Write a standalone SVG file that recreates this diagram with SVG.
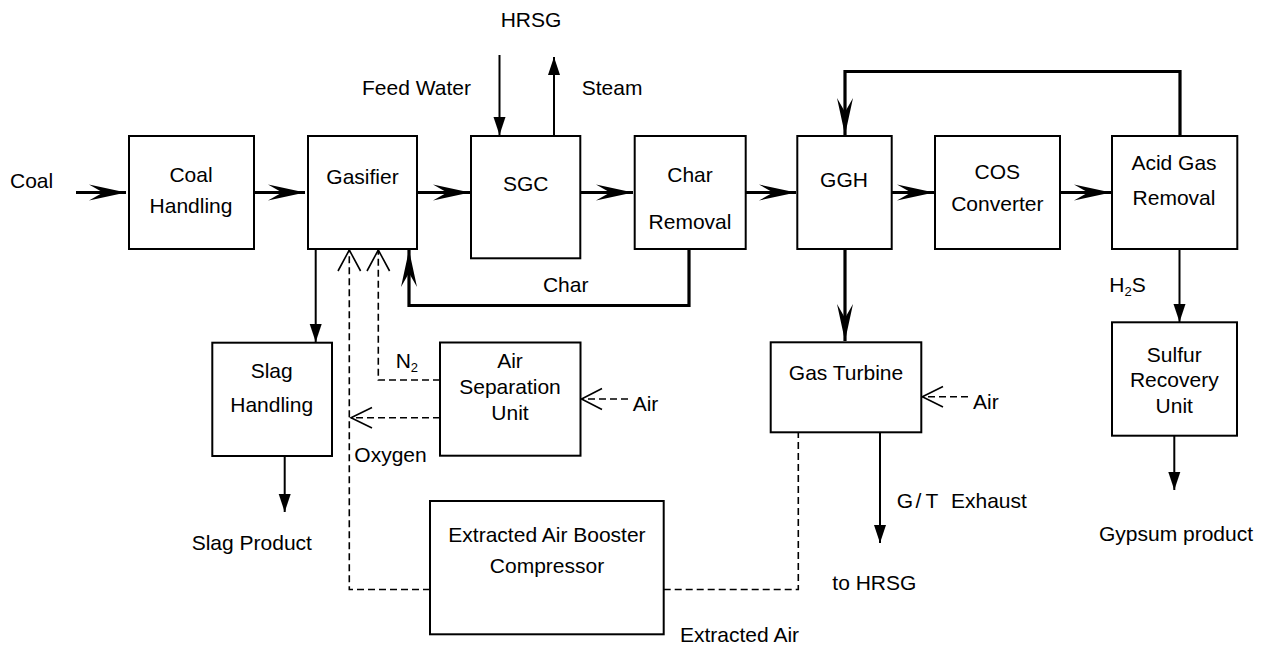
<svg xmlns="http://www.w3.org/2000/svg" width="1274" height="648" viewBox="0 0 1274 648">
<style>
text{font-family:"Liberation Sans",Arial,sans-serif;font-size:21px;fill:#000}
.m{text-anchor:middle}
.sub{font-size:13px}
.box{fill:#fff;stroke:#000;stroke-width:2}
.thick{fill:none;stroke:#000;stroke-width:3.2}
.thin{fill:none;stroke:#000;stroke-width:2}
.dash{fill:none;stroke:#000;stroke-width:1.6;stroke-dasharray:7 4}
.open{fill:none;stroke:#000;stroke-width:1.6}
</style>
<defs>
<marker id="big" markerUnits="userSpaceOnUse" markerWidth="40" markerHeight="20" viewBox="-38 -9 40 18" refX="0" refY="0" orient="auto">
<path d="M0,0 L-37,-8 L-23,0 L-37,8 Z" fill="#000"/>
</marker>
<marker id="tri" markerUnits="userSpaceOnUse" markerWidth="20" markerHeight="14" viewBox="-19 -7 20 14" refX="0" refY="0" orient="auto">
<path d="M0,0 L-18,-6 L-18,6 Z" fill="#000"/>
</marker>
</defs>

<g id="connectors">
<path class="thick" d="M76,192.5 H126" marker-end="url(#big)"/>
<path class="thick" d="M254,192.5 H305" marker-end="url(#big)"/>
<path class="thick" d="M417,192.5 H470" marker-end="url(#big)"/>
<path class="thick" d="M580,192.5 H633" marker-end="url(#big)"/>
<path class="thick" d="M746,192.5 H796" marker-end="url(#big)"/>
<path class="thick" d="M892,192.5 H934" marker-end="url(#big)"/>
<path class="thick" d="M1060,192.5 H1111" marker-end="url(#big)"/>
<path class="thick" d="M1180,136 V71.5 H845 V135" marker-end="url(#big)"/>
<path class="thick" d="M845,249 V341" marker-end="url(#big)"/>
<path class="thick" d="M689,249 V305.5 H409 V250" marker-end="url(#big)"/>
<path class="thin" d="M499.5,55 V135" marker-end="url(#tri)"/>
<path class="thin" d="M554,136 V57" marker-end="url(#tri)"/>
<path class="thin" d="M315.7,249 V342" marker-end="url(#tri)"/>
<path class="thin" d="M284.7,456 V512" marker-end="url(#tri)"/>
<path class="thin" d="M1179.5,249 V322" marker-end="url(#tri)"/>
<path class="thin" d="M1174.3,436 V490" marker-end="url(#tri)"/>
<path class="thin" d="M880,432 V543" marker-end="url(#tri)"/>
<path class="dash" d="M663.7,589.5 H798.3 V432.3"/>
<path class="dash" d="M430,589.5 H349.3 V250"/>
<path class="open" d="M338,271 L349.3,250 L360.6,271"/>
<path class="dash" d="M440,380 H378.3 V250"/>
<path class="open" d="M367,271 L378.3,250 L389.6,271"/>
<path class="dash" d="M440,417.7 H351"/>
<path class="open" d="M372,407.5 L351,417.7 L372,428"/>
<path class="dash" d="M628,399 H581.5"/>
<path class="open" d="M602,388.5 L581.5,399 L602,409.5"/>
<path class="dash" d="M968,396.7 H922.3"/>
<path class="open" d="M943,386.5 L922.3,396.7 L943,407"/>
</g>

<g id="coal-handling"><rect class="box" x="129" y="136" width="125" height="113"/><text class="m" x="191" y="181.7">Coal</text><text class="m" x="191" y="212.5">Handling</text></g>
<g id="gasifier"><rect class="box" x="308" y="136" width="109" height="113"/><text class="m" x="362.5" y="184.3">Gasifier</text></g>
<g id="sgc"><rect class="box" x="471" y="136" width="109.3" height="122.3"/><text class="m" x="525.7" y="191">SGC</text></g>
<g id="char-removal"><rect class="box" x="634.7" y="136" width="111" height="113"/><text class="m" x="690" y="181.7">Char</text><text class="m" x="690" y="229">Removal</text></g>
<g id="ggh"><rect class="box" x="797.3" y="136" width="94.4" height="113"/><text class="m" x="844" y="187.3">GGH</text></g>
<g id="cos-converter"><rect class="box" x="935" y="136" width="125" height="113"/><text class="m" x="997.3" y="179.3">COS</text><text class="m" x="997.3" y="211">Converter</text></g>
<g id="acid-gas-removal"><rect class="box" x="1112" y="136" width="125.3" height="113"/><text class="m" x="1174" y="170">Acid Gas</text><text class="m" x="1174" y="205">Removal</text></g>
<g id="slag-handling"><rect class="box" x="212.3" y="342.7" width="119.7" height="113.3"/><text class="m" x="271.7" y="378.3">Slag</text><text class="m" x="271.7" y="412.3">Handling</text></g>
<g id="air-separation-unit"><rect class="box" x="440" y="342.5" width="140.5" height="113.2"/><text class="m" x="510" y="368">Air</text><text class="m" x="510" y="394.3">Separation</text><text class="m" x="510" y="420">Unit</text></g>
<g id="gas-turbine"><rect class="box" x="770.7" y="342.3" width="150.6" height="90"/><text class="m" x="846" y="380">Gas Turbine</text></g>
<g id="sulfur-recovery-unit"><rect class="box" x="1112" y="322.3" width="125" height="113.4"/><text class="m" x="1174.3" y="362.3">Sulfur</text><text class="m" x="1174.3" y="387.3">Recovery</text><text class="m" x="1174.3" y="413.3">Unit</text></g>
<g id="booster-compressor"><rect class="box" x="430" y="501" width="233.7" height="133.3"/><text class="m" x="547" y="541.7">Extracted Air Booster</text><text class="m" x="547" y="572.7">Compressor</text></g>

<g id="labels">
<text x="10" y="188">Coal</text>
<text class="m" x="531" y="27.3">HRSG</text>
<text x="362" y="95">Feed Water</text>
<text x="581.7" y="95">Steam</text>
<text class="m" x="565.7" y="291.7">Char</text>
<text x="1109.3" y="292.3">H<tspan class="sub" dy="4">2</tspan><tspan dy="-4">S</tspan></text>
<text x="395.7" y="368">N<tspan class="sub" dy="4">2</tspan></text>
<text x="632.7" y="411">Air</text>
<text x="354.3" y="461.7">Oxygen</text>
<text x="973" y="409">Air</text>
<text x="896.7" y="508.3">G<tspan x="915.5">/</tspan><tspan x="925.5">T</tspan><tspan x="951">Exhaust</tspan></text>
<text x="832.3" y="590">to HRSG</text>
<text x="191.7" y="550">Slag Product</text>
<text x="1099" y="541">Gypsum product</text>
<text x="680" y="641.7">Extracted Air</text>
</g>
</svg>
